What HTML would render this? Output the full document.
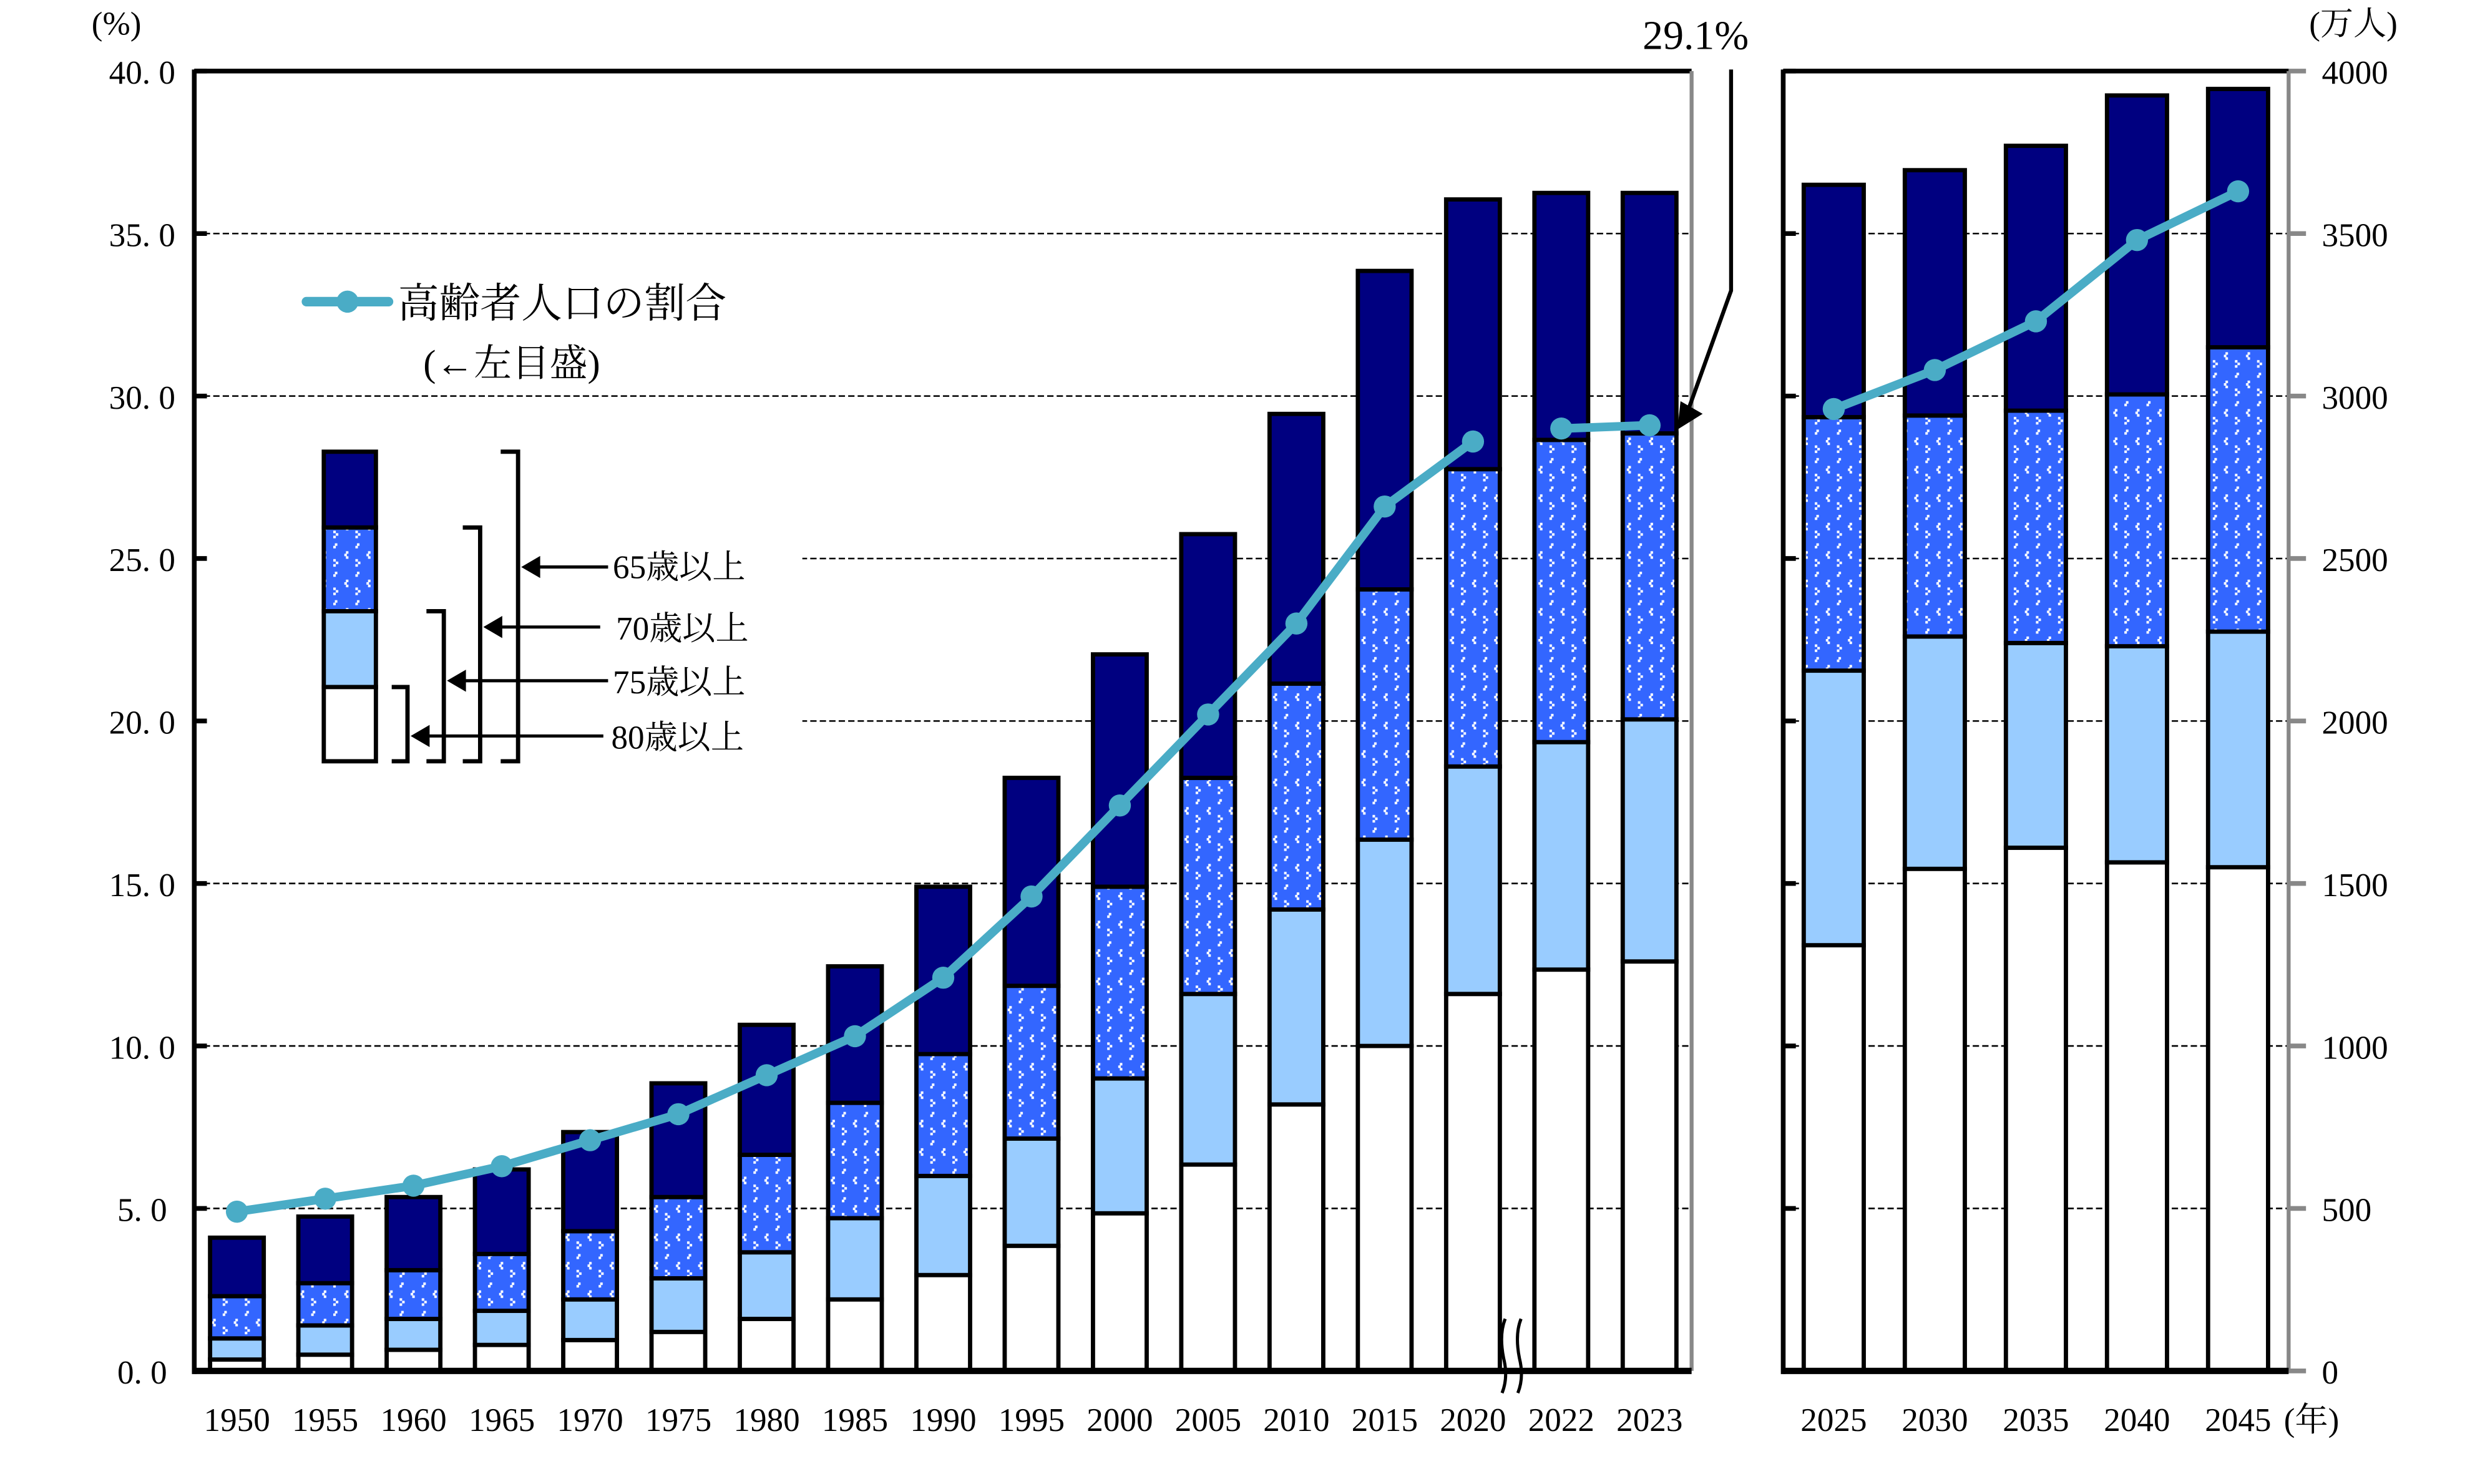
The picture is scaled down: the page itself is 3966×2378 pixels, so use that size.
<!DOCTYPE html>
<html><head><meta charset="utf-8"><style>
html,body{margin:0;padding:0;background:#fff;}
svg{display:block;}
text{font-family:"Liberation Serif","Noto Serif CJK JP",serif;fill:#000;}
</style></head><body>
<svg id="chart" width="3966" height="2378" viewBox="0 0 1567 939.6" preserveAspectRatio="none" xmlns="http://www.w3.org/2000/svg">
<defs>
<pattern id="dots" width="14" height="18" patternUnits="userSpaceOnUse">
<rect width="14" height="18" fill="#3366ff"/>
<rect x="2" y="2" width="1.6" height="1.6" fill="#fff"/><rect x="1" y="3.6" width="1.6" height="1.6" fill="#fff"/>
<rect x="9" y="7" width="1.6" height="1.6" fill="#fff"/><rect x="8" y="8.6" width="1.6" height="1.6" fill="#fff"/><rect x="9" y="10.2" width="1.6" height="1.6" fill="#fff"/>
<rect x="1" y="12" width="1.6" height="1.6" fill="#fff"/><rect x="2.6" y="13.6" width="1.6" height="1.6" fill="#fff"/><rect x="1" y="15.2" width="1.6" height="1.6" fill="#fff"/>
</pattern>
</defs>
<g id="grid"></g>
<rect x="128" y="275" width="380" height="215" fill="#fff"/>
<g id="bars"></g>
<g id="frames"></g>
<g id="lines"></g>
<g id="labels"></g>

<text x="58" y="22" font-size="21">(%)</text>
<text x="1462" y="22" font-size="21">(万人)</text>
<text x="1446" y="906" font-size="21">(年)</text>

<g>
<line x1="194" y1="191" x2="246" y2="191" stroke="#4aacc6" stroke-width="6" stroke-linecap="round"/>
<circle cx="220" cy="191" r="7" fill="#4aacc6"/>
<text x="252" y="201" font-size="26">高齢者人口の割合</text>
<text x="268" y="238" font-size="24">(←左目盛)</text>
</g>

<g stroke="#000" stroke-width="2.7">
<rect x="205" y="286" width="33" height="48" fill="#000080"/>
<rect x="205" y="334" width="33" height="53" fill="url(#dots)"/>
<rect x="205" y="387" width="33" height="48" fill="#99ccff"/>
<rect x="205" y="435" width="33" height="47" fill="#fff"/>
<polyline points="248,435 258,435 258,482 248,482" fill="none"/>
<polyline points="270,387 281,387 281,482 270,482" fill="none"/>
<polyline points="293,334 304,334 304,482 293,482" fill="none"/>
<polyline points="317,286 328,286 328,482 317,482" fill="none"/>
<line x1="340" y1="359" x2="385" y2="359" stroke-width="2"/><polygon points="330,359 342,352 342,366" fill="#000" stroke="none"/>
<line x1="316" y1="397" x2="380" y2="397" stroke-width="2"/><polygon points="306,397 318,390 318,404" fill="#000" stroke="none"/>
<line x1="293" y1="431" x2="385" y2="431" stroke-width="2"/><polygon points="283,431 295,424 295,438" fill="#000" stroke="none"/>
<line x1="270" y1="466" x2="382" y2="466" stroke-width="2"/><polygon points="260,466 272,459 272,473" fill="#000" stroke="none"/>
</g>
<text x="388" y="366" font-size="21">65歳以上</text>
<text x="390" y="405" font-size="21">70歳以上</text>
<text x="388" y="439" font-size="21">75歳以上</text>
<text x="387" y="474" font-size="21">80歳以上</text>

<text x="1040" y="31" font-size="26">29.1%</text>
<polyline points="1096,44 1096,184 1068,262" fill="none" stroke="#000" stroke-width="2.5"/>
<polygon points="1062,272 1064,254 1078,262" fill="#000"/>

<g fill="none" stroke="#000" stroke-width="2">
<path d="M953,835 Q949,845 952,860 Q955,872 951,882"/>
<path d="M963,835 Q959,845 962,860 Q965,872 961,882"/>
</g>
</svg>
<script>
const yearsLeft = ["1950","1955","1960","1965","1970","1975","1980","1985","1990","1995","2000","2005","2010","2015","2020","2022","2023"];
const yearsRight = ["2025","2030","2035","2040","2045"];
// cumulative populations (万人)
const pop80Left = [35,50,65,80,95,120,160,220,295,385,485,635,820,1000,1160,1235,1260];
const pop75Left = [100,140,160,185,220,285,365,470,600,715,900,1160,1420,1635,1860,1935,2005];
const pop70Left = [230,270,310,360,430,535,665,825,975,1185,1490,1825,2115,2405,2775,2865,2885];
const pop65Left = [410,475,535,620,735,885,1065,1245,1490,1825,2205,2575,2945,3385,3605,3625,3625];
const pop80Right = [1310,1545,1610,1565,1550];
const pop75Right = [2155,2260,2240,2230,2275];
const pop70Right = [2935,2940,2955,3005,3150];
const pop65Right = [3650,3695,3770,3925,3945];
const ratioLeft = [4.9,5.3,5.7,6.3,7.1,7.9,9.1,10.3,12.1,14.6,17.4,20.2,23.0,26.6,28.6,29.0,29.1];
const ratioRight = [29.6,30.8,32.3,34.8,36.3];
const leftTicks = ["0. 0","5. 0","10. 0","15. 0","20. 0","25. 0","30. 0","35. 0","40. 0"];
const rightTicks = ["0","500","1000","1500","2000","2500","3000","3500","4000"];

const NS="http://www.w3.org/2000/svg";
const Y0=868, YT=45;
function yPct(v){return Y0-(v/40)*(Y0-YT);}
function yPop(v){return Y0-(v/4000)*(Y0-YT);}
function xLeft(i){return 150+i*55.9;}
function xRight(i){return 1161+i*64;}
function mk(tag,attrs,parent){const e=document.createElementNS(NS,tag);for(const k in attrs)e.setAttribute(k,attrs[k]);parent.appendChild(e);return e;}
const grid=document.getElementById('grid'),bars=document.getElementById('bars'),frames=document.getElementById('frames'),lines=document.getElementById('lines'),labels=document.getElementById('labels');

leftTicks.forEach((t,i)=>{
  const y=yPct(i*5);
  if(i>0&&i<8){
    const g1=mk('line',{x1:123,y1:y,x2:1071,y2:y,stroke:'#000','stroke-width':1,'stroke-dasharray':'4,2'},grid);
    
    
    const g2=mk('line',{x1:1129,y1:y,x2:1449,y2:y,stroke:'#000','stroke-width':1,'stroke-dasharray':'4,2'},grid);
    
    
  }
  const tk=mk('line',{x1:123,y1:y,x2:131,y2:y,stroke:'#000','stroke-width':3},frames);
  
  
  const tk2=mk('line',{x1:1129,y1:y,x2:1137,y2:y,stroke:'#000','stroke-width':3},frames);
  
  
  const tk3=mk('line',{x1:1449,y1:y,x2:1460,y2:y,stroke:'#888','stroke-width':3},frames);
  
  
  const lt=mk('text',{x:90,y:y+8,'font-size':21,'text-anchor':'end'},labels);
  lt.textContent=t;
  
  
  lt.setAttribute('x',90); lt.setAttribute('text-anchor','middle');
  const rt=mk('text',{x:1470,y:y+8,'font-size':21},labels);
  rt.textContent=rightTicks[i];
  
  
});

function drawBars(years,p80,p75,p70,p65,xf,w,side){
  years.forEach((yr,i)=>{
    const x=xf(i)-w/2;
    const segs=[[0,p80[i],'#fff'],[p80[i],p75[i],'#99ccff'],[p75[i],p70[i],'url(#dots)'],[p70[i],p65[i],'#000080']];
    const names=['80plus','75to79','70to74','65to69'];
    segs.forEach((s,k)=>{
      const r=mk('rect',{x:x,y:yPop(s[1]),width:w,height:yPop(s[0])-yPop(s[1]),fill:s[2],stroke:'#000','stroke-width':2.7},bars);
      
      
    });
    const lb=mk('text',{x:xf(i),y:906,'font-size':21,'text-anchor':'middle'},labels);
    lb.textContent=yr;
    
    
  });
}
drawBars(yearsLeft,pop80Left,pop75Left,pop70Left,pop65Left,xLeft,34,'left');
drawBars(yearsRight,pop80Right,pop75Right,pop70Right,pop65Right,xRight,38,'right');

// frames
[[123,1071],[1129,1449]].forEach((p,k)=>{
  const t=mk('line',{x1:p[0],y1:YT,x2:p[1],y2:YT,stroke:'#000','stroke-width':3},frames);
  
  
  const l=mk('line',{x1:p[0],y1:YT-1,x2:p[0],y2:Y0+2,stroke:'#000','stroke-width':3},frames);
  
  
  const r=mk('line',{x1:p[1],y1:YT,x2:p[1],y2:Y0,stroke:'#888','stroke-width':2.5},frames);
  
  
  const b=mk('line',{x1:p[0],y1:Y0,x2:p[1],y2:Y0,stroke:'#000','stroke-width':4},frames);
  
  
});

function drawLine(vals,xf,from,to,name){
  let pts=[];
  for(let i=from;i<=to;i++)pts.push(xf(i)+','+yPct(vals[i]));
  const pl=mk('polyline',{points:pts.join(' '),fill:'none',stroke:'#4aacc6','stroke-width':5.5,'stroke-linejoin':'round'},lines);
  
  
  for(let i=from;i<=to;i++){
    const c=mk('circle',{cx:xf(i),cy:yPct(vals[i]),r:7,fill:'#4aacc6'},lines);
    
    
  }
}
drawLine(ratioLeft,xLeft,0,14,'ratio-line-1950-2020');
drawLine(ratioLeft,xLeft,15,16,'ratio-line-2022-2023');
drawLine(ratioRight,xRight,0,4,'ratio-line-projection');
</script>
</body></html>
